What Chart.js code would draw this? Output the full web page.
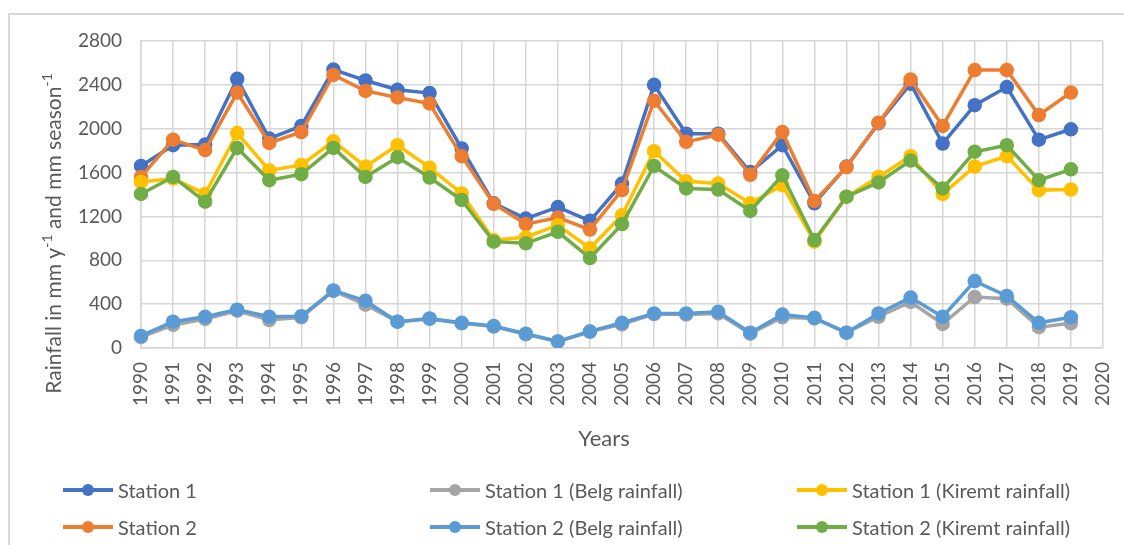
<!DOCTYPE html>
<html>
<head>
<meta charset="utf-8">
<title>Rainfall 1990-2019</title>
<script src="https://cdn.jsdelivr.net/npm/chart.js@4.4.1/dist/chart.umd.min.js"></script>
<style>
  html, body { margin: 0; padding: 0; background: #fff; overflow: hidden; }
  #wrap { position: relative; width: 1124px; height: 545px; overflow: hidden; font-family: Lato, sans-serif; }
  #frame { position: absolute; left: 8px; top: 13px; width: 1400px; height: 800px;
           border-left: 2px solid #d9d9d9; border-top: 2px solid #d9d9d9; }
  #chart { position: absolute; left: 0; top: 0; }
  .lg { position: absolute; height: 24px; width: 340px; }
  .lg .ln { position: absolute; left: 0; top: 10px; width: 50px; height: 4px; }
  .lg .dot { position: absolute; left: 19px; top: 6px; width: 12px; height: 12px; border-radius: 50%; }
  .lg .tx { position: absolute; left: 55px; top: 0; line-height: 24px; font-size: 20px; color: #595959; white-space: nowrap; }
</style>
</head>
<body>
<div id="wrap">
  <div id="frame"></div>
  <canvas id="chart" width="1124" height="545"></canvas>
  <div id="legend"></div>
</div>
<script>
// Year labels on the category axis (2020 closes the axis, no data there)
const years = ['1990','1991','1992','1993','1994','1995','1996','1997','1998','1999',
               '2000','2001','2002','2003','2004','2005','2006','2007','2008','2009',
               '2010','2011','2012','2013','2014','2015','2016','2017','2018','2019','2020'];

// Annual totals (mm/yr)
const station1 = [1660, 1850, 1855, 2455, 1910, 2025, 2540, 2440, 2355, 2325,
                  1820, 1320, 1180, 1285, 1160, 1500, 2400, 1955, 1955, 1605,
                  1850, 1320, 1655, 2050, 2410, 1865, 2215, 2380, 1900, 1995];
const station2 = [1560, 1900, 1805, 2330, 1870, 1970, 2490, 2345, 2285, 2230,
                  1750, 1315, 1130, 1190, 1080, 1440, 2255, 1880, 1945, 1580,
                  1970, 1340, 1650, 2055, 2450, 2025, 2535, 2535, 2125, 2330];

// Seasonal totals (mm/season)
const station1Belg = [100, 210, 265, 340, 255, 280, 520, 395, 240, 265,
                      225, 195, 125, 60, 150, 215, 310, 305, 315, 130,
                      280, 270, 140, 285, 420, 220, 465, 450, 190, 225];
const station1Kiremt = [1515, 1545, 1405, 1960, 1620, 1670, 1885, 1655, 1850, 1645,
                        1410, 985, 1010, 1120, 910, 1210, 1795, 1520, 1500, 1320,
                        1485, 970, 1380, 1560, 1750, 1405, 1655, 1750, 1440, 1445];
const station2Belg = [110, 240, 285, 350, 285, 290, 525, 430, 240, 270,
                      230, 200, 130, 60, 150, 230, 315, 315, 330, 140,
                      305, 275, 140, 315, 460, 285, 610, 475, 230, 280];
const station2Kiremt = [1405, 1560, 1335, 1825, 1530, 1585, 1825, 1560, 1740, 1555,
                        1350, 970, 955, 1060, 820, 1130, 1660, 1455, 1445, 1250,
                        1575, 985, 1380, 1510, 1710, 1455, 1790, 1850, 1530, 1630];

// Axis range
const yMin = 0, yMax = 2800, yStep = 400;

const xTitle = 'Years';
const yTitleParts = [
  { text: 'Rainfall in mm y', sup: false },
  { text: '-1', sup: true },
  { text: ' and mm season', sup: false },
  { text: '-1', sup: true }
];

// Series: legend slot (row, col), colour, stacking order (lower = drawn on top)
const series = [
  { label: 'Station 1',                 data: station1,       color: '#4472C4', row: 0, col: 0, order: 5 },
  { label: 'Station 1 (Belg rainfall)',   data: station1Belg,   color: '#A5A5A5', row: 0, col: 1, order: 3 },
  { label: 'Station 1 (Kiremt rainfall)', data: station1Kiremt, color: '#FFC000', row: 0, col: 2, order: 2 },
  { label: 'Station 2',                 data: station2,       color: '#ED7D31', row: 1, col: 0, order: 4 },
  { label: 'Station 2 (Belg rainfall)',   data: station2Belg,   color: '#5B9BD5', row: 1, col: 1, order: 1 },
  { label: 'Station 2 (Kiremt rainfall)', data: station2Kiremt, color: '#70AD47', row: 1, col: 2, order: 0 }
];

const TEXT = '#595959';
const GRID = '#d6d6d6';

// Axis titles, the vertical one with superscript exponents
const axisTitles = {
  id: 'axisTitles',
  afterDraw(chart) {
    const { ctx, chartArea: a } = chart;
    ctx.save();
    ctx.fillStyle = TEXT;
    ctx.textBaseline = 'middle';
    ctx.font = '22px Lato';
    ctx.textAlign = 'center';
    ctx.fillText(xTitle, (a.left + a.right) / 2 - 18, a.bottom + 91);

    const mainFont = '21px Lato', supFont = '14px Lato';
    let total = 0;
    yTitleParts.forEach(p => { ctx.font = p.sup ? supFont : mainFont; total += ctx.measureText(p.text).width; });
    ctx.translate(a.left - 87, (a.top + a.bottom) / 2 + 39);
    ctx.rotate(-Math.PI / 2);
    ctx.textAlign = 'left';
    let x = -total / 2;
    yTitleParts.forEach(p => {
      ctx.font = p.sup ? supFont : mainFont;
      ctx.fillText(p.text, x, p.sup ? -7 : 0);
      x += ctx.measureText(p.text).width;
    });
    ctx.restore();
  }
};

function buildLegend() {
  const colLeft = [63, 430, 797];
  const rowTop = [478, 515];
  const box = document.getElementById('legend');
  series.forEach(s => {
    const item = document.createElement('div');
    item.className = 'lg';
    item.style.left = colLeft[s.col] + 'px';
    item.style.top = rowTop[s.row] + 'px';
    const ln = document.createElement('div'); ln.className = 'ln'; ln.style.background = s.color;
    const dot = document.createElement('div'); dot.className = 'dot'; dot.style.background = s.color;
    const tx = document.createElement('div'); tx.className = 'tx'; tx.textContent = s.label;
    item.append(ln, dot, tx);
    box.appendChild(item);
  });
}

function draw() {
  Chart.defaults.font.family = 'Lato';
  Chart.defaults.color = TEXT;
  new Chart(document.getElementById('chart'), {
    type: 'line',
    data: {
      labels: years,
      datasets: series.map(s => ({
        label: s.label,
        data: s.data,
        order: s.order,
        borderColor: s.color,
        backgroundColor: s.color,
        pointBackgroundColor: s.color,
        pointBorderColor: s.color,
        borderWidth: 3.5,
        pointRadius: 6.5,
        pointBorderWidth: 1.5,
        tension: 0,
        fill: false
      }))
    },
    options: {
      responsive: false,
      animation: false,
      devicePixelRatio: 1,
      layout: { padding: { left: 0, top: 41, right: 21, bottom: 77 } },
      plugins: { legend: { display: false }, tooltip: { enabled: false } },
      scales: {
        x: {
          type: 'category',
          offset: false,
          grid: { color: GRID, lineWidth: 1.5, drawTicks: false, offset: false },
          border: { color: GRID, width: 1.5 },
          ticks: { autoSkip: false, maxRotation: 90, minRotation: 90, padding: 14,
                   font: { size: 19 }, color: TEXT },
          afterFit(scale) {
            scale.height = 120;
            scale.paddingLeft = 0;
            scale.paddingRight = 0;
          }
        },
        y: {
          min: yMin, max: yMax,
          grid: { color: GRID, lineWidth: 1.5, drawTicks: false },
          border: { color: GRID, width: 1.5 },
          ticks: { stepSize: yStep, padding: 19, font: { size: 19 }, color: TEXT,
                   callback: v => String(v) },
          afterFit(scale) {
            scale.width = 141;
            scale.paddingTop = 0;
            scale.paddingBottom = 0;
          }
        }
      }
    },
    plugins: [axisTitles]
  });
}

buildLegend();
if (document.fonts && document.fonts.load) {
  document.fonts.load('20px Lato').then(draw, draw);
} else {
  draw();
}
</script>
</body>
</html>
